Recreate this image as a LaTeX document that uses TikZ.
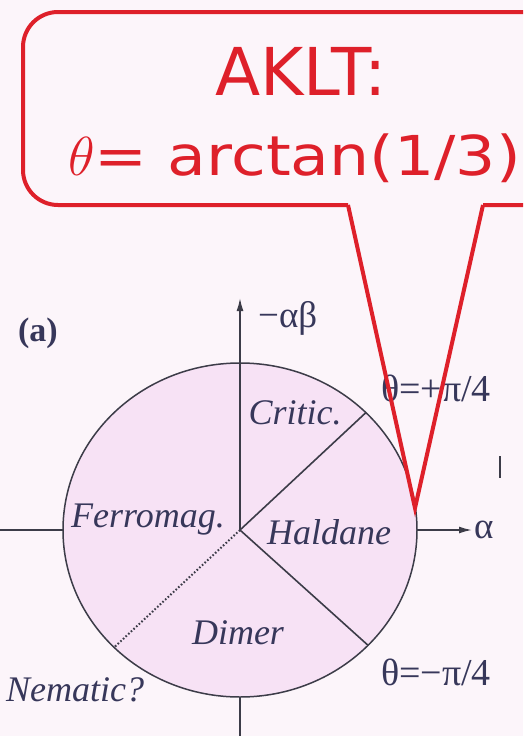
\documentclass[tikz,border=0pt]{standalone}
\usepackage{fix-cm}
\usepackage{fontspec}
\setmainfont{Liberation Serif}
\newfontfamily\calfont{DejaVu Sans}
\usetikzlibrary{shapes.geometric,arrows.meta}
\definecolor{bg}{RGB}{252,245,250}
\definecolor{disk}{RGB}{247,226,245}
\definecolor{ink}{RGB}{55,55,90}
\definecolor{lineink}{RGB}{60,60,72}
\definecolor{callred}{RGB}{222,32,42}
\begin{document}
\begin{tikzpicture}[x=1pt,y=-1pt,
  region/.style={font=\fontsize{36}{40}\selectfont\itshape, text=ink, inner sep=0pt},
  plain/.style={font=\fontsize{37}{40}\selectfont, text=ink, inner sep=0pt},
  axis/.style={draw=lineink, line width=1.6pt},
  tipstyle/.style={-{Latex[length=13pt,width=7pt]}},
  callout/.style={draw=callred, line width=4pt},
  calltext/.style={text=callred, inner sep=0pt}]
\useasboundingbox (0,0) rectangle (523,736);
\clip (0,0) rectangle (523,736);
\fill[bg] (0,0) rectangle (523,736);

% callout box
\coordinate (tl) at (348,205);
\coordinate (tr) at (483,205);
\coordinate (tip) at (415,508);
\draw[callout, fill=bg, rounded corners=35pt] (tl) -- (23,205) -- (23,12) -- (580,12) -- (580,205) -- (tr);
\node[calltext, anchor=base, font=\calfont\fontsize{66}{70}\selectfont] (aklt) at (301,95) {AKLT:};
\node[calltext, anchor=base west, font=\calfont\fontsize{55}{60}\selectfont] (formula) at (68,175)
  {$\theta$\scalebox{1.15}[1]{= arctan(1/3)}};

% disk
\node[ellipse, draw=lineink, fill=disk, line width=1.5pt, minimum width=354pt, minimum height=334pt,
      inner sep=0pt, outer sep=0pt] (c) at (240,530) {};
\coordinate (xl) at (0,530);
\coordinate (xr) at (472,530);
\coordinate (yt) at (240,298);
\coordinate (yb) at (240,740);
\draw[axis] (xl) -- (c.west);
\draw[axis,tipstyle] (c.east) -- (xr);
\draw[axis] (c.south) -- (yb);
\draw[axis,tipstyle] (c.center) -- (yt);
\draw[axis] (c.center) -- (c.43);
\draw[axis] (c.center) -- (c.-42);
\draw[axis, dotted, line width=2pt] (c.center) -- (c.223);

% labels
\node[plain, anchor=west] (ablab) at (258,318) {−αβ};
\node[plain, anchor=west] (alab) at (474,530) {α};
\node[plain, font=\fontsize{34}{36}\selectfont\bfseries] (panel) at (38,333) {(a)};
\node[plain, font=\fontsize{38}{40}\selectfont] (tp) at (436,388) {θ=+π/4};
\node[plain, font=\fontsize{38}{40}\selectfont] (tm) at (436,672) {θ=−π/4};
\node[region] (critic) at (295,413) {Critic.};
\node[region] (ferro) at (148,520) {Ferromag.};
\node[region] (hald) at (329,532) {Haldane};
\node[region] (dimer) at (238,633) {Dimer};
\node[region] (nem) at (75,690) {Nematic?};

% small tick
\coordinate (tk1) at (500,456);
\coordinate (tk2) at (500,478);
\draw[lineink, line width=2.5pt] (tk1) -- (tk2);

% callout tail
\draw[callout, line join=miter] (tl) -- (tip) -- (tr);
\end{tikzpicture}
\end{document}
